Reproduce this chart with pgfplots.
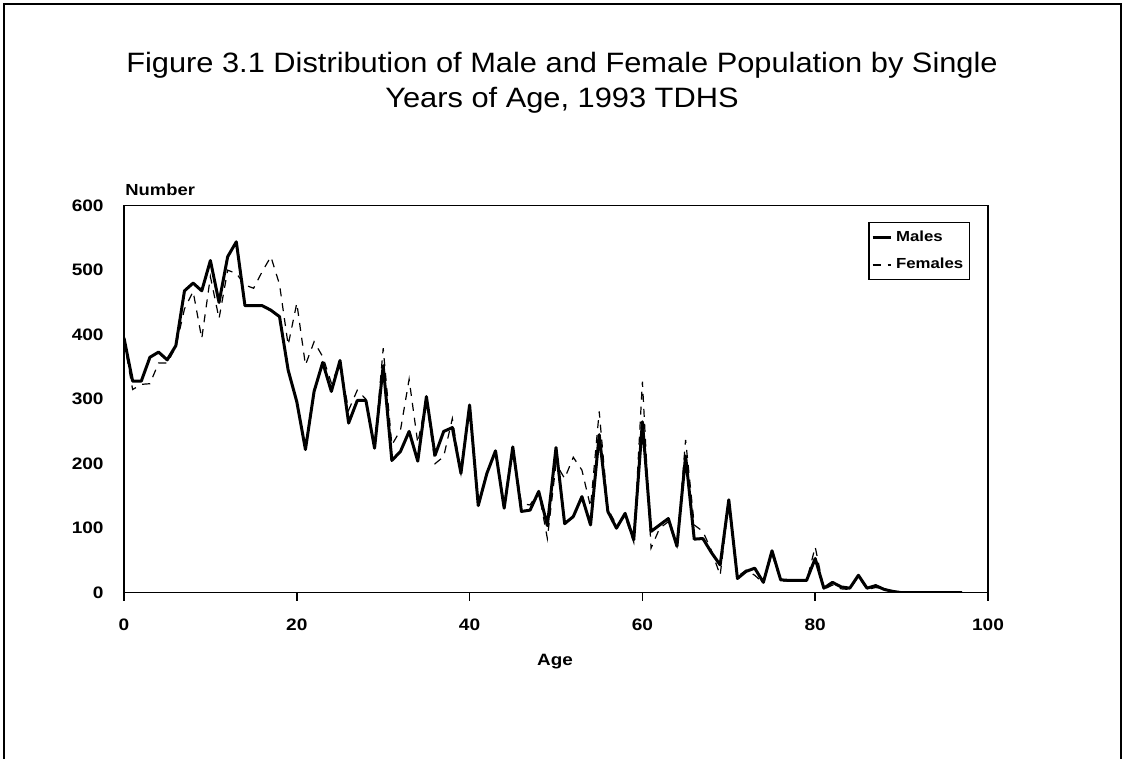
\documentclass[border=0pt]{standalone}
\usepackage{pgfplots}
\pgfplotsset{compat=1.18}
\usepackage{pgfplotstable}
\usepackage{fontspec}
\setmainfont{Liberation Sans}
\newfontfamily\wfont[FakeStretch=1.15]{Liberation Sans}
\newfontfamily\tfont[FakeStretch=1.10]{Liberation Sans}
\newlength\px
\setlength\px{0.5pt}

\pgfplotstableread{
age males females
0 395 390
1 328 315
2 328 323
3 365 324
4 373 356
5 361 356
6 383 381
7 468 440
8 480 467
9 468 394
10 515 490
11 450 425
12 521 500
13 544 495
14 445 477
15 445 472
16 445 498
17 438 521
18 428 478
19 345 384
20 296 449
21 222 353
22 312 389
23 357 366
24 312 325
25 360 355
26 263 283
27 298 314
28 298 300
29 224 224
30 352 379
31 205 229
32 219 252
33 250 331
34 204 232
35 304 300
36 213 200
37 250 211
38 256 270
39 185 185
40 291 291
41 135 140
42 185 185
43 220 220
44 131 131
45 226 226
46 126 138
47 128 136
48 157 157
49 104 84
50 225 200
51 107 177
52 118 210
53 149 190
54 105 133
55 245 281
56 126 130
57 100 105
58 123 118
59 82 78
60 265 327
61 95 69
62 105 100
63 115 110
64 72 72
65 212 237
66 83 105
67 84 95
68 62 65
69 43 27
70 144 140
71 22 25
72 33 35
73 38 27
74 16 15
75 65 60
76 20 18
77 19 18
78 19 18
79 19 18
80 53 71
81 7 5
82 16 12
83 9 6
84 7 5
85 27 25
86 7 5
87 11 8
88 5 6
89 2 2
90 0 0
91 0 0
92 0 0
93 0 0
94 0 0
95 0 0
96 0 0
97 0 0
}\popdata

\begin{document}
\begin{tikzpicture}
\useasboundingbox (0,0) rectangle (1125\px,759\px);
\draw[line width=1.3pt] (4\px,0) -- (4\px,755\px) -- (1121\px,755\px) -- (1121\px,0);
\node[font=\tfont\fontsize{14}{16}\selectfont] at (562\px,694\px) {Figure 3.1 Distribution of Male and Female Population by Single};
\node[font=\tfont\fontsize{14}{16}\selectfont] at (562\px,659\px) {Years of Age, 1993 TDHS};
\node[font=\wfont\bfseries\fontsize{8}{10}\selectfont, anchor=base west, inner sep=0pt] at (125\px,563\px) {Number};
\node[font=\wfont\bfseries\fontsize{8.2}{10}\selectfont, inner sep=0pt] at (555\px,97\px) {Age};
\begin{axis}[
  at={(124\px,166.3\px)}, anchor=south west,
  width=864\px, height=387\px, scale only axis,
  xmin=0, xmax=100, ymin=0, ymax=600,
  xtick={0,20,...,100}, ytick={0,100,...,600},
  axis line style={line width=0.8pt},
  tick align=outside, tick pos=left,
  xtick style={line width=0.8pt, black},
  ytick style={draw=none},
  major tick length=8\px,
  /pgf/number format/assume math mode=true,
  ticklabel style={font=\wfont\bfseries\fontsize{8.3}{10}\selectfont, inner sep=0pt},
  xticklabel style={anchor=north, yshift=-18\px},
  yticklabel style={anchor=east, xshift=-12\px},
  legend style={at={(0.979,0.958)}, anchor=north east, draw=black, line width=0.6pt,
     font=\wfont\bfseries\fontsize{7.3}{9}\selectfont, inner xsep=1pt, inner ysep=2pt,
     row sep=3pt, cells={anchor=west}},
  legend image code/.code={\draw[#1] (0pt,0pt) -- (9pt,0pt);},
]
\addplot[black, line width=1.5pt, line join=round] table[x=age, y=males] {\popdata};
\addlegendentry{Males}
\addplot[black, line width=0.6pt, dash pattern=on 4pt off 3.5pt] table[x=age, y=females] {\popdata};
\addlegendentry{Females}
\end{axis}
\end{tikzpicture}
\end{document}
